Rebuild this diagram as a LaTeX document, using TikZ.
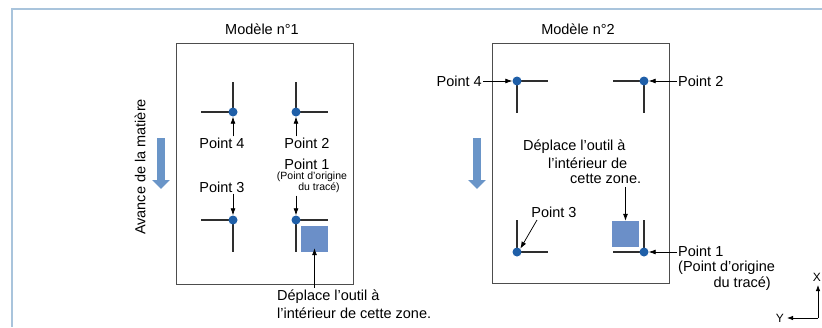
\documentclass[tikz,border=0pt]{standalone}
\usepackage{fontspec}
\setmainfont{Liberation Sans}
\usetikzlibrary{arrows.meta}
\definecolor{frameblue}{HTML}{A9C4DC}
\definecolor{dotblue}{HTML}{1F5FA8}
\definecolor{zoneblue}{HTML}{6B8FC8}
\definecolor{feedblue}{HTML}{6A95C8}
\definecolor{linegray}{HTML}{2E2E2E}
\tikzset{
  crossline/.style={draw=linegray, line width=1.5pt},
  dotnode/.style={circle, fill=dotblue, inner sep=0pt, minimum size=9pt},
  zone/.style={fill=zoneblue, inner sep=0pt, minimum width=27pt, minimum height=26pt},
  lbl/.style={font=\fontsize{14.5}{16}\selectfont, inner sep=1pt, text=black},
  smalllbl/.style={font=\fontsize{10.5}{12}\selectfont, inner sep=0.5pt, text=black},
  ptr/.style={draw=black, line width=0.75pt, -{Latex[length=7pt,width=5pt]}},
  feed/.style={draw=feedblue, line width=8pt, -{Triangle[length=9pt,width=17pt]}},
  sheet/.style={draw=linegray!85, line width=1pt},
}
\begin{document}
\begin{tikzpicture}[x=1pt,y=-1pt]
\useasboundingbox (0,0) rectangle (822,327);
\clip (0,0) rectangle (822,327);
\fill[white] (0,0) rectangle (822,327);
% frame
\draw[frameblue, line width=2pt] (822,9) -- (12,9) -- (12,327);

% ================= Model 1 =================
\node[lbl] (t1) at (262,29) {Modèle n°1};
\draw[sheet] (176,43) rectangle (353,284);

\coordinate (c4) at (233,112);
\coordinate (c2) at (296,112);
\coordinate (c3) at (233,220);
\coordinate (c1) at (296,220);
\draw[crossline] (c4) -- ++(-32,0) (c4) -- ++(0,-30);
\draw[crossline] (c2) -- ++(32,0) (c2) -- ++(0,-30);
\draw[crossline] (c3) -- ++(-32,0) (c3) -- ++(0,32);
\draw[crossline] (c1) -- ++(32,0) (c1) -- ++(0,32);
\node[dotnode] (d4) at (c4) {};
\node[dotnode] (d2) at (c2) {};
\node[dotnode] (d3) at (c3) {};
\node[dotnode] (d1) at (c1) {};
\node[zone] (sq1) at (314.5,239) {};

\node[lbl] (l4) at (222,143) {Point 4};
\node[lbl] (l2) at (307,143) {Point 2};
\node[lbl] (l3) at (222,187) {Point 3};
\node[lbl] (l1) at (307,164) {Point 1};
\node[smalllbl] (l1a) at (312,177) {(Point d'origine};
\node[smalllbl] (l1b) at (319,188) {du tracé)};

\draw[ptr] (l4.north -| d4) -- (d4.south);
\draw[ptr] (l2.north -| d2) -- (d2.south);
\draw[ptr] (l3.south -| d3) -- (d3.north);
\draw[ptr] (l1b.south -| d1) ++(0,2) -- (d1.north);

\node[lbl, anchor=west] (z1a) at (276,297) {Déplace l’outil à};
\node[lbl, anchor=west] (z1b) at (276,313) {l’intérieur de cette zone.};
\draw[ptr] (z1a.north -| sq1) ++(0,-1) -- ([yshift=4pt]sq1.south);

\node[lbl, rotate=90] (av) at (140,167) {Avance de la matière};
\coordinate (f1s) at (161,138);
\coordinate (f1e) at (161,189);
\draw[feed] (f1s) -- (f1e);

% ================= Model 2 =================
\node[lbl] (t2) at (578,29) {Modèle n°2};
\draw[sheet] (492,43) rectangle (669,283);

\coordinate (e4) at (517,81);
\coordinate (e2) at (644,81);
\coordinate (e3) at (517,252);
\coordinate (e1) at (644,252);
\draw[crossline] (e4) -- ++(31,0) (e4) -- ++(0,32);
\draw[crossline] (e2) -- ++(-31,0) (e2) -- ++(0,32);
\draw[crossline] (e3) -- ++(31,0) (e3) -- ++(0,-32);
\draw[crossline] (e1) -- ++(-31,0) (e1) -- ++(0,-32);
\node[dotnode] (g4) at (e4) {};
\node[dotnode] (g2) at (e2) {};
\node[dotnode] (g3) at (e3) {};
\node[dotnode] (g1) at (e1) {};
\node[zone] (sq2) at (625.5,234) {};

\node[lbl, anchor=east] (m4) at (483,81) {Point 4};
\node[lbl, anchor=west] (m2) at (677,81) {Point 2};
\node[lbl] (m3) at (554,212) {Point 3};
\node[lbl, anchor=west] (m1) at (677,251) {Point 1};
\node[lbl, anchor=west] (m1a) at (677,268) {(Point d’origine};
\node[lbl, anchor=east] (m1b) at (772,284) {du tracé)};

\draw[ptr] (m4.east) -- (g4.west);
\draw[ptr] (m2.west) -- (g2.east);
\draw[ptr] (m1.west |- g1) -- (g1.east);
\coordinate (m3s) at (537,220);
\draw[ptr] (m3s) -- (g3.north east);

\node[lbl, anchor=west] (z2a) at (522,147) {Déplace l’outil à};
\node[lbl, anchor=west] (z2b) at (547,163) {l’intérieur de};
\node[lbl, anchor=west] (z2c) at (569,179) {cette zone.};
\draw[ptr] (z2c.south -| sq2) ++(0,2) -- (sq2.north);

\coordinate (f2s) at (477,138);
\coordinate (f2e) at (477,189);
\draw[feed] (f2s) -- (f2e);

% axes
\coordinate (ax) at (818,318);
\coordinate (axy) at (787,318);
\coordinate (axx) at (818,285);
\draw[draw=black, line width=0.8pt, -{Latex[length=6pt,width=4.5pt]}] (ax) -- (axy);
\draw[draw=black, line width=0.8pt, -{Latex[length=6pt,width=4.5pt]}] (ax) -- (axx);
\node[lbl, anchor=east, font=\fontsize{12}{14}\selectfont] (ylab) at (785,318) {Y};
\node[lbl, anchor=east, font=\fontsize{12}{14}\selectfont] (xlab) at (822,277) {X};
\end{tikzpicture}
\end{document}
